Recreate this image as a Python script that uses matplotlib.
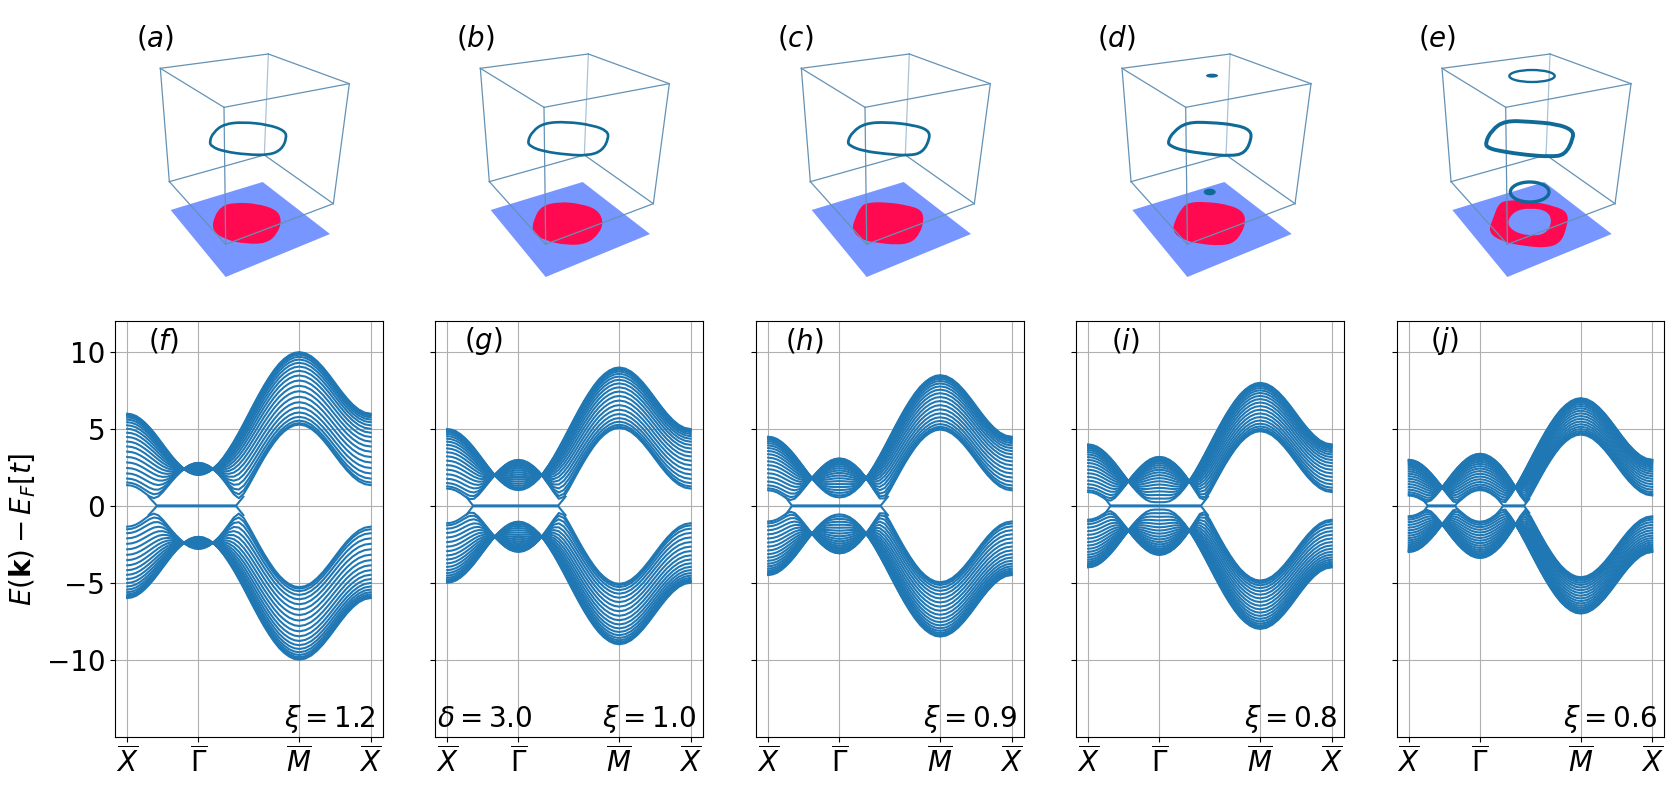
import numpy as np
import matplotlib
matplotlib.use("Agg")
import matplotlib.pyplot as plt
from matplotlib.path import Path
from matplotlib.patches import PathPatch, Polygon, Ellipse

W, H = 1675, 788

# ---------- band panels: values, energy in units of t ----------
tick_pos = [0.0, 1.0, 2.414, 3.414]
tick_labels = [r'$\overline{X}$', r'$\overline{\Gamma}$', r'$\overline{M}$', r'$\overline{X}$']

# Centre and half-spread of the edge curves of the upper band on the k grid
mid_f = [3.60,3.56,3.45,3.26,3.01,2.71,2.37,1.99,1.60,1.21,0.83,0.49,0.19,-0.06,-0.25,-0.36,-0.40,
         -0.35,-0.20,0.04,0.36,0.77,1.25,1.78,2.36,2.97,3.60,4.23,4.84,5.42,5.95,6.43,6.84,7.16,7.40,7.55,7.60,
         7.53,7.33,7.01,6.60,6.12,5.60,5.08,4.60,4.19,3.87,3.67,3.60]
mid_g = [3.00,2.96,2.85,2.66,2.41,2.11,1.77,1.39,1.00,0.61,0.23,-0.11,-0.41,-0.66,-0.85,-0.96,-1.00,
         -0.95,-0.80,-0.56,-0.24,0.17,0.65,1.18,1.76,2.37,3.00,3.63,4.24,4.82,5.35,5.83,6.24,6.56,6.80,6.95,7.00,
         6.93,6.73,6.41,6.00,5.52,5.00,4.48,4.00,3.59,3.27,3.07,3.00]
mid_h = [2.70,2.66,2.55,2.36,2.11,1.81,1.47,1.09,0.70,0.31,-0.07,-0.41,-0.71,-0.96,-1.15,-1.26,-1.30,
         -1.25,-1.10,-0.86,-0.54,-0.13,0.35,0.88,1.46,2.07,2.70,3.33,3.94,4.52,5.05,5.53,5.94,6.26,6.50,6.65,6.70,
         6.63,6.43,6.11,5.70,5.22,4.70,4.18,3.70,3.29,2.97,2.77,2.70]
mid_i = [2.40,2.36,2.25,2.06,1.81,1.51,1.17,0.79,0.40,0.01,-0.37,-0.71,-1.01,-1.26,-1.45,-1.56,-1.60,
         -1.55,-1.40,-1.16,-0.84,-0.43,0.05,0.58,1.16,1.77,2.40,3.03,3.64,4.22,4.75,5.23,5.64,5.96,6.20,6.35,6.40,
         6.33,6.13,5.81,5.40,4.92,4.40,3.88,3.40,2.99,2.67,2.47,2.40]
mid_j = [1.80,1.76,1.65,1.46,1.21,0.91,0.57,0.19,-0.20,-0.59,-0.97,-1.31,-1.61,-1.86,-2.05,-2.16,-2.20,
         -2.15,-2.00,-1.76,-1.44,-1.03,-0.55,-0.02,0.56,1.17,1.80,2.43,3.04,3.62,4.15,4.63,5.04,5.36,5.60,5.75,5.80,
         5.73,5.53,5.21,4.80,4.32,3.80,3.28,2.80,2.39,2.07,1.87,1.80]
band_mid = [mid_f, mid_g, mid_h, mid_i, mid_j]
band_half = [2.4, 2.0, 1.8, 1.6, 1.2]

# Where each sub-band line sits between the two edge curves
line_weights = [0.9944,0.9778,0.9505,0.9131,0.8665,0.8117,0.7500,0.6827,0.6113,0.5374,
                0.4626,0.3887,0.3173,0.2500,0.1883,0.1335,0.0869,0.0495,0.0250,0.0110]

# Near-zero surface states: pieces of (k, E)
surf_f = [([0.30,0.414,1.53,1.63],[0.60,0.03,0.03,0.60])]
surf_g = [([0.267,0.36,1.558,1.66],[0.60,0.03,0.03,0.60])]
surf_h = [([0.24,0.33,1.58,1.68],[0.60,0.03,0.03,0.60])]
surf_i = [([0.22,0.31,1.585,1.68],[0.60,0.03,0.03,0.60])]
surf_j = [([0.19,0.263,0.654,0.72],[0.45,0.03,0.03,0.45]),
          ([1.25,1.32,1.62,1.69],[0.45,0.03,0.03,0.45])]
band_surf = [surf_f, surf_g, surf_h, surf_i, surf_j]

band_letters = ['f', 'g', 'h', 'i', 'j']
band_label_dx = [33.5, 28.5, 29.0, 35.0, 33.5]
xi_values = ['1.2', '1.0', '0.9', '0.8', '0.6']

k_grid = np.concatenate([np.linspace(tick_pos[0], tick_pos[1], 17),
                         np.linspace(tick_pos[1], tick_pos[2], 21)[1:],
                         np.linspace(tick_pos[2], tick_pos[3], 13)[1:]])

# ---------- 3D sketches: outlines in panel units ----------
box_top = [(181,205),(505,162),(748,251),(372,322)]
box_bottom = [(208,545),(493,465),(700,611),(377,733)]
plane = [(488,546),(690,702),(377,831),(212,630)]

blob_a = [(400,608),(470,610),(532,630),(545,662),(532,702),(500,730),(440,732),(378,720),(336,692),(342,650),(365,618)]
loop_a = [(328,425),(340,397),(372,372),(430,366),(505,374),(555,392),(560,415),(545,448),(510,465),(440,464),(370,454),(335,440)]
blob_b = [(420,605),(480,611),(532,628),(551,665),(537,702),(500,732),(440,736),(375,722),(335,697),(342,655),(365,617)]
loop_b = [(322,425),(338,393),(372,369),(440,365),(520,376),(562,393),(566,415),(547,452),(505,467),(440,464),(370,454),(332,440)]
blob_c = [(377,608),(432,606),(502,616),(542,630),(549,660),(537,700),(512,728),(467,735),(407,728),(362,720),(332,690),(342,655),(359,620)]
loop_c = [(319,425),(335,395),(372,370),(437,366),(517,375),(562,390),(567,415),(545,458),(502,467),(437,462),(367,453),(327,438)]
blob_d = [(380,607),(435,605),(505,615),(545,635),(552,665),(540,700),(515,730),(475,737),(415,732),(365,720),(332,695),(340,660),(360,625)]
loop_d = [(318,425),(335,395),(375,367),(445,367),(525,375),(565,390),(570,415),(550,460),(505,468),(435,462),(365,452),(325,438)]
blob_e = [(375,600),(445,603),(520,618),(560,638),(556,680),(538,728),(495,744),(425,738),(362,725),(318,697),(336,650),(350,612)]
hole_e = [(375,665),(400,632),(445,624),(497,632),(512,665),(492,703),(440,708),(392,693)]
loop_e = [(310,430),(330,390),(370,362),(445,365),(525,372),(573,390),(575,415),(550,465),(505,470),(435,465),(365,455),(320,445)]
panel_blobs = [blob_a, blob_b, blob_c, blob_d, blob_e]
panel_loops = [loop_a, loop_b, loop_c, loop_d, loop_e]
loop_widths = [1.9, 1.9, 2.0, 2.2, 2.8]
panel_left = [100, 420, 741, 1061.7, 1381.7]
panel_letters = ['a', 'b', 'c', 'd', 'e']
panel_label_x = [136, 456, 777, 1097, 1418]

PLANE_C = '#7896ff'
BLOB_C = '#ff0a50'
BOX_C = '#6492b5'
LOOP_C = '#0f6a96'
BAND_C = '#1f77b4'


def smooth_closed(points):
    p = np.asarray(points, float)
    nxt = np.roll(p, -1, axis=0)
    mids = (p + nxt) / 2
    verts = [mids[-1]]
    codes = [Path.MOVETO]
    for a, m in zip(p, mids):
        verts += [a, m]
        codes += [Path.CURVE3, Path.CURVE3]
    verts.append(mids[-1])
    codes.append(Path.CLOSEPOLY)
    return np.array(verts), codes


def smooth_path(*loops):
    vs, cs = [], []
    for l in loops:
        v, c = smooth_closed(l)
        vs.append(v)
        cs += c
    return Path(np.vstack(vs), cs)


def px_axes(left, top, right, bottom, **kw):
    return fig.add_axes([left / W, 1 - bottom / H, (right - left) / W, (bottom - top) / H], **kw)


plt.rcParams['mathtext.fontset'] = 'dejavusans'
fig = plt.figure(figsize=(W / 100, H / 100), dpi=100)

# ---------- top row ----------
for n, left in enumerate(panel_left):
    ax = px_axes(left, 0, left + 300, 290)
    ax.set_xlim(0, 900)
    ax.set_ylim(870, 0)
    ax.axis('off')
    ax.add_patch(Polygon(plane, closed=True, fc=PLANE_C, ec='none', zorder=1))
    loops = [panel_blobs[n]] + ([hole_e[::-1]] if n == 4 else [])
    ax.add_patch(PathPatch(smooth_path(*loops), fc=BLOB_C, ec='none', zorder=2))
    for a, b in [(0, 1), (1, 2), (2, 3), (3, 0)]:
        for ring in (box_top, box_bottom):
            ax.plot([ring[a][0], ring[b][0]], [ring[a][1], ring[b][1]], color=BOX_C, lw=0.9, zorder=3)
    for a in range(4):
        ax.plot([box_top[a][0], box_bottom[a][0]], [box_top[a][1], box_bottom[a][1]],
                color=BOX_C, lw=0.9, alpha=0.55 if a == 1 else 1, zorder=3)
    ax.add_patch(PathPatch(smooth_path(panel_loops[n]), fc='none', ec=LOOP_C, lw=loop_widths[n], zorder=4))
    if n == 3:
        ax.add_patch(Ellipse((451, 227), 36, 12, fc=LOOP_C, ec='none', zorder=4))
        ax.add_patch(Ellipse((444, 576), 36, 20, fc=LOOP_C, ec='none', zorder=4))
    if n == 4:
        ax.add_patch(Ellipse((451, 228), 136, 36, fc='none', ec=LOOP_C, lw=1.7, zorder=4))
        ax.add_patch(Ellipse((444, 576), 116, 60, fc='none', ec=LOOP_C, lw=2.4, zorder=4))
    fig.text(panel_label_x[n] / W, 1 - 46 / H, f'$({panel_letters[n]})$', fontsize=20, ha='left', va='baseline')

# ---------- bottom row ----------
ax_lefts = [115.0, 435.0, 756.0, 1076.0, 1396.6]
ax_w = 267.8
for n, left in enumerate(ax_lefts):
    ax = px_axes(left, 321.0, left + ax_w, 737)
    mid = np.asarray(band_mid[n])
    half = band_half[n]
    for u in line_weights:
        e = np.sqrt(u * (mid + half) ** 2 + (1 - u) * (mid - half) ** 2)
        ax.plot(k_grid, e, color=BAND_C, lw=1.5)
        ax.plot(k_grid, -e, color=BAND_C, lw=1.5)
    for xs, es in band_surf[n]:
        ax.plot(xs, es, color=BAND_C, lw=1.5)
        ax.plot(xs, -np.asarray(es), color=BAND_C, lw=1.5)
    ax.set_xticks(tick_pos)
    ax.set_xticklabels(tick_labels, fontsize=20)
    ax.set_yticks([-10, -5, 0, 5, 10])
    ax.set_ylim(-15, 12)
    ax.grid(True)
    if n == 0:
        ax.tick_params(axis='y', labelsize=20)
        ax.set_ylabel(r'$E(\mathbf{k})-E_F[t]$', fontsize=20)
        ax.yaxis.set_label_coords((38 - left) / ax_w, 0.5)
    else:
        ax.set_yticklabels([])
    ax.text(band_label_dx[n] / ax_w, 1 - 28.5 / 416, f'$({band_letters[n]})$',
            transform=ax.transAxes, fontsize=20, ha='left', va='baseline')
    ax.text(0.974, 0.025, rf'$\xi={xi_values[n]}$', transform=ax.transAxes, fontsize=20, ha='right', va='baseline')
    if n == 1:
        ax.text(0.006, 0.025, r'$\delta=3.0$', transform=ax.transAxes, fontsize=20, ha='left', va='baseline')

fig.savefig('out.png', dpi=100)
